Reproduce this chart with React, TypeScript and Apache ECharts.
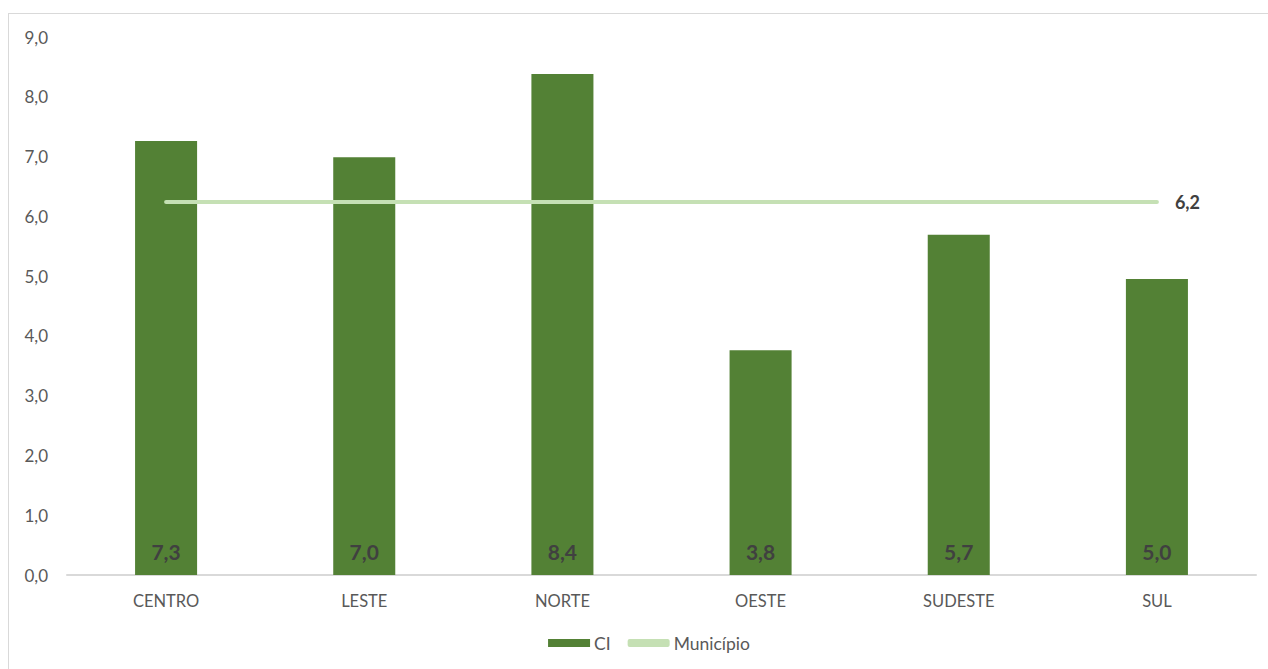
import React, { useEffect, useRef } from "react";
import * as echarts from "echarts";

const categories = ["CENTRO", "LESTE", "NORTE", "OESTE", "SUDESTE", "SUL"];
const ciValues = [7.26, 6.99, 8.38, 3.76, 5.69, 4.95];
const municipioValues = [6.24, 6.24, 6.24, 6.24, 6.24, 6.24];
const yTicks = { min: 0, max: 9, interval: 1 };

const fmt = (v: number) => v.toFixed(1).replace(".", ",");
const FONT = "Lato, 'Open Sans', sans-serif";

export default function App() {
  const ref = useRef<HTMLDivElement>(null);
  useEffect(() => {
    if (!ref.current) return;
    const chart = echarts.init(ref.current, undefined, { renderer: "svg" });
    chart.setOption({
      animation: false,
      textStyle: { fontFamily: FONT },
      grid: { left: 58, right: 33, top: 23, bottom: 139, containLabel: false },
      legend: {
        top: 615,
        left: "center",
        itemGap: 17,
        itemWidth: 42,
        itemHeight: 8,
        textStyle: { color: "#595959", fontSize: 17.5, fontFamily: FONT, padding: [0, 0, 0, -1] },
        data: [
          { name: "CI", icon: "rect" },
          { name: "Município", icon: "roundRect" },
        ],
      },
      xAxis: {
        type: "category",
        data: categories,
        axisLine: { lineStyle: { color: "#d9d9d9", width: 2 } },
        axisTick: { show: false },
        axisLabel: { color: "#595959", fontSize: 16.5, margin: 17, fontFamily: FONT },
      },
      yAxis: {
        type: "value",
        min: yTicks.min,
        max: yTicks.max,
        interval: yTicks.interval,
        axisLine: { show: false },
        axisTick: { show: false },
        splitLine: { show: false },
        axisLabel: {
          color: "#595959",
          fontSize: 17,
          margin: 19,
          fontFamily: FONT,
          formatter: (v: number) => fmt(v),
        },
      },
      series: [
        {
          name: "CI",
          type: "bar",
          data: ciValues,
          barWidth: "31.3%",
          itemStyle: { color: "#538135" },
          label: {
            show: true,
            position: "insideBottom",
            distance: 13,
            color: "#404040",
            fontWeight: "bold",
            fontSize: 21,
            fontFamily: FONT,
            formatter: (p: any) => fmt(p.value),
          },
          z: 2,
        },
        {
          name: "Município",
          type: "line",
          data: municipioValues,
          symbol: "none",
          lineStyle: { color: "#c5e0b4", width: 4, cap: "round" },
          itemStyle: { color: "#c5e0b4" },
          endLabel: {
            show: true,
            distance: 18,
            color: "#404040",
            fontWeight: "bold",
            fontSize: 18,
            fontFamily: FONT,
            formatter: (p: any) => fmt(p.value),
          },
          z: 3,
        },
      ],
    });
    return () => chart.dispose();
  }, []);

  return (
    <div
      style={{
        position: "fixed",
        left: 8,
        top: 13,
        width: 1280,
        height: 700,
        border: "1px solid #d9d9d9",
        background: "#fff",
      }}
    >
      <div ref={ref} style={{ width: 1280, height: 700 }} />
    </div>
  );
}
